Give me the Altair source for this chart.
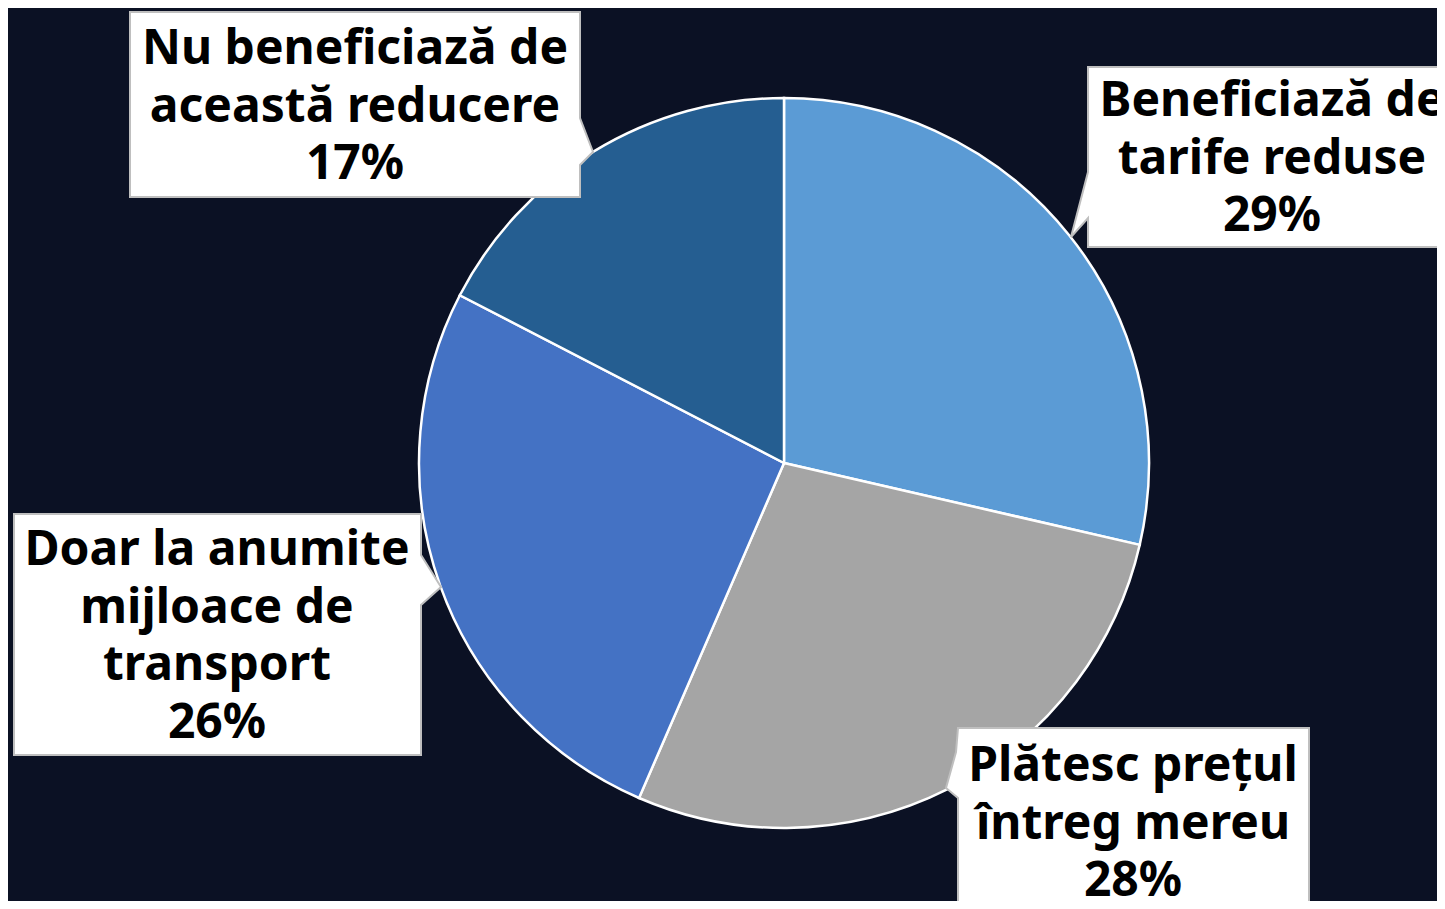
import altair as alt
import pandas as pd

# ---- data ----
categories = [
    "Beneficiază de tarife reduse",
    "Plătesc prețul întreg mereu",
    "Doar la anumite mijloace de transport",
    "Nu beneficiază de această reducere",
]
values = [28.6, 27.9, 26.1, 17.4]          # slice sizes
pct_labels = ["29%", "28%", "26%", "17%"]  # labels as printed
label_lines = [
    ["Beneficiază de", "tarife reduse"],
    ["Plătesc prețul", "întreg mereu"],
    ["Doar la anumite", "mijloace de", "transport"],
    ["Nu beneficiază de", "această reducere"],
]
colors = ["#5B9BD5", "#A5A5A5", "#4472C4", "#255E91"]

# ---- layout (chart pixel coordinates) ----
W, H = 1429, 893
pie_cx, pie_cy, pie_r = 776, 455, 365
label_cx = [1264, 1125, 209, 347]
label_cy = [94, 759, 543, 42]  # centre of first text line
# callout outlines: box corners + pointer notch (page coords, shifted by -8 below)
callouts = [
    [(1088, 67), (1470, 67), (1470, 247), (1088, 247), (1088, 218), (1071, 237), (1088, 172)],
    [(958, 728), (1309, 728), (1309, 930), (958, 930), (958, 798), (946, 788), (956, 752)],
    [(14, 514), (421, 514), (421, 555), (441, 587), (421, 605), (421, 755), (14, 755)],
    [(130, 12), (580, 12), (580, 118), (593, 152), (580, 165), (580, 197), (130, 197)],
]


def to_path(pts):
    return "M" + " L".join(f"{x - 8} {y - 8}" for x, y in pts) + " Z"


pie_df = pd.DataFrame({"category": categories, "value": values, "order": list(range(len(values)))})
call_df = pd.DataFrame({"category": categories, "path": [to_path(p) for p in callouts]})
text_df = pd.DataFrame({
    "category": categories,
    "text": ["\n".join(l + [p]) for l, p in zip(label_lines, pct_labels)],
    "lx": label_cx,
    "ly": label_cy,
})

pie = alt.Chart(pie_df).mark_arc(
    outerRadius=pie_r, stroke="white", strokeWidth=2.5
).encode(
    theta=alt.Theta("value:Q", stack=True),
    color=alt.Color("category:N", scale=alt.Scale(domain=categories, range=colors), legend=None),
    order=alt.Order("order:Q"),
    x=alt.value(pie_cx),
    y=alt.value(pie_cy),
)

boxes = alt.Chart(call_df).mark_point(
    filled=True, fill="white", stroke="#BFBFBF", strokeWidth=2, opacity=1, size=4
).encode(
    shape=alt.Shape("path:N", scale=None),
    x=alt.value(0),
    y=alt.value(0),
)

texts = alt.Chart(text_df).mark_text(
    font="Noto Sans", fontWeight="bold", fontSize=48, lineBreak="\n", lineHeight=57.5,
    align="center", baseline="middle", color="black"
).encode(
    x=alt.X("lx:Q", scale=None),
    y=alt.Y("ly:Q", scale=None),
    text="text:N",
)

chart = alt.layer(pie, boxes, texts).properties(
    width=W, height=H, background="#0B1124", padding=0, autosize="none"
).configure_view(stroke=None)

chart.save("out.html", embed_options={"renderer": "svg", "actions": False})
